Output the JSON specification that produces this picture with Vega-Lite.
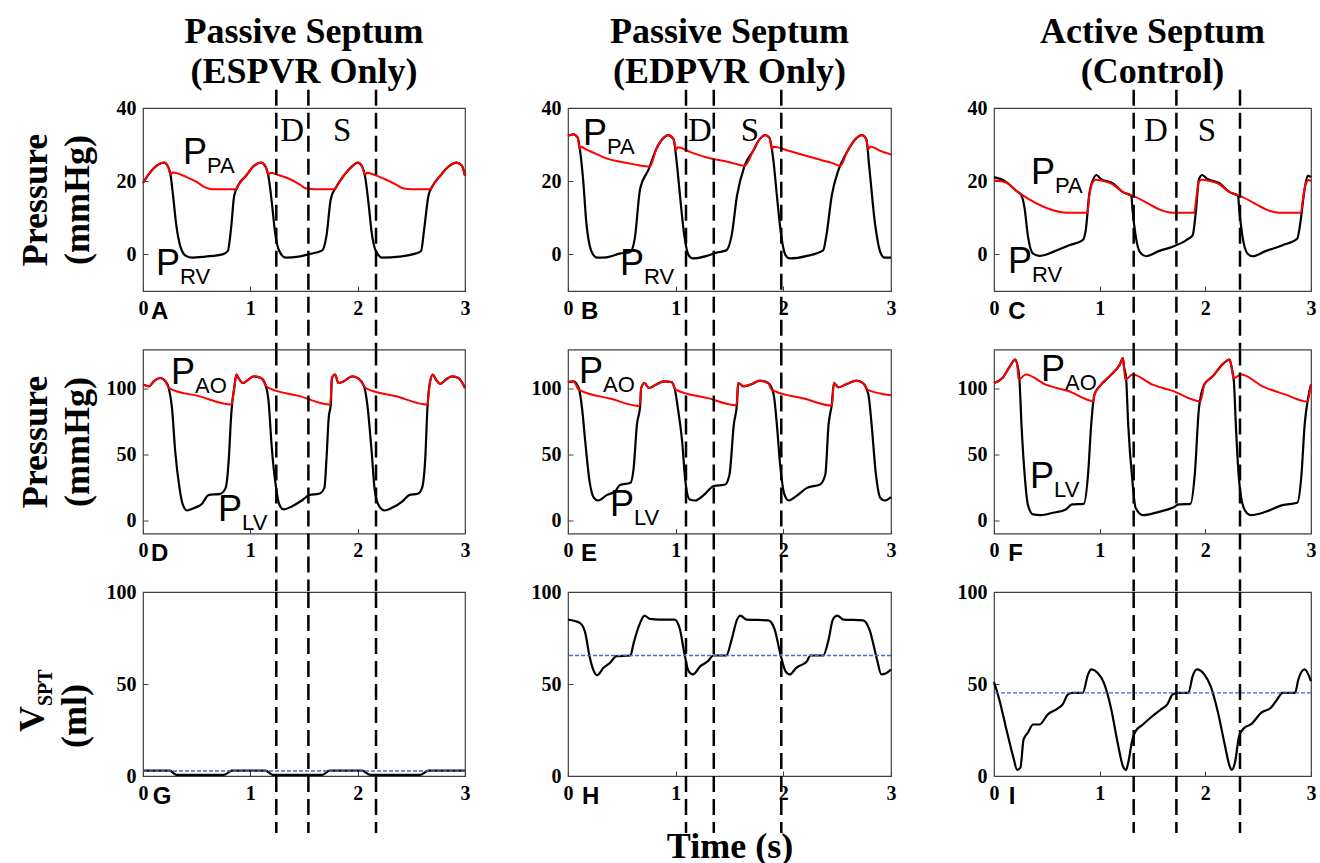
{
"$schema":"https://vega.github.io/schema/vega-lite/v6.json",
"padding":{"left":14,"top":13,"right":0,"bottom":0},
"background":"white",
"datasets":{
"cur":[
{"p":"A","s":"k","t":0,"v":19.5},{"p":"A","s":"k","t":0.056,"v":22},{"p":"A","s":"k","t":0.134,"v":24.4},{"p":"A","s":"k","t":0.196,"v":25.1},{"p":"A","s":"k","t":0.236,"v":23.8},{"p":"A","s":"k","t":0.258,"v":21.5},{"p":"A","s":"k","t":0.28,"v":16.1},{"p":"A","s":"k","t":0.31,"v":8},{"p":"A","s":"k","t":0.35,"v":2},{"p":"A","s":"k","t":0.4,"v":-0.4},{"p":"A","s":"k","t":0.46,"v":-0.9},{"p":"A","s":"k","t":0.58,"v":-0.6},{"p":"A","s":"k","t":0.74,"v":0},{"p":"A","s":"k","t":0.79,"v":0.9},{"p":"A","s":"k","t":0.82,"v":7},{"p":"A","s":"k","t":0.85,"v":16.1},{"p":"A","s":"k","t":0.89,"v":19},{"p":"A","s":"k","t":0.96,"v":21.5},{"p":"A","s":"k","t":1.03,"v":24.1},{"p":"A","s":"k","t":1.1,"v":25.1},{"p":"A","s":"k","t":1.14,"v":24.1},{"p":"A","s":"k","t":1.17,"v":21.1},{"p":"A","s":"k","t":1.2,"v":14.3},{"p":"A","s":"k","t":1.23,"v":6.1},{"p":"A","s":"k","t":1.27,"v":0.9},{"p":"A","s":"k","t":1.33,"v":-0.9},{"p":"A","s":"k","t":1.45,"v":-0.6},{"p":"A","s":"k","t":1.55,"v":0.1},{"p":"A","s":"k","t":1.67,"v":1.1},{"p":"A","s":"k","t":1.71,"v":5.2},{"p":"A","s":"k","t":1.75,"v":15.2},{"p":"A","s":"k","t":1.8,"v":18.4},{"p":"A","s":"k","t":1.87,"v":21.5},{"p":"A","s":"k","t":1.95,"v":24.1},{"p":"A","s":"k","t":2,"v":25.1},{"p":"A","s":"k","t":2.04,"v":24.1},{"p":"A","s":"k","t":2.07,"v":21.1},{"p":"A","s":"k","t":2.1,"v":14.3},{"p":"A","s":"k","t":2.13,"v":6.1},{"p":"A","s":"k","t":2.17,"v":0.9},{"p":"A","s":"k","t":2.23,"v":-0.9},{"p":"A","s":"k","t":2.39,"v":-0.6},{"p":"A","s":"k","t":2.51,"v":0},{"p":"A","s":"k","t":2.59,"v":0.9},{"p":"A","s":"k","t":2.62,"v":7},{"p":"A","s":"k","t":2.66,"v":16.1},{"p":"A","s":"k","t":2.7,"v":18.8},{"p":"A","s":"k","t":2.77,"v":21.5},{"p":"A","s":"k","t":2.85,"v":24.1},{"p":"A","s":"k","t":2.92,"v":25.1},{"p":"A","s":"k","t":2.97,"v":24.3},{"p":"A","s":"k","t":3,"v":21.5},
{"p":"A","s":"r","t":0,"v":19.5},{"p":"A","s":"r","t":0.056,"v":22},{"p":"A","s":"r","t":0.134,"v":24.4},{"p":"A","s":"r","t":0.196,"v":25.1},{"p":"A","s":"r","t":0.236,"v":23.8},{"p":"A","s":"r","t":0.258,"v":21.8},{"p":"A","s":"r","t":0.27,"v":22.4},{"p":"A","s":"r","t":0.3,"v":22.3},{"p":"A","s":"r","t":0.4,"v":21.2},{"p":"A","s":"r","t":0.5,"v":19.8},{"p":"A","s":"r","t":0.58,"v":18.3},{"p":"A","s":"r","t":0.65,"v":17.8},{"p":"A","s":"r","t":0.865,"v":17.8},{"p":"A","s":"r","t":0.89,"v":19},{"p":"A","s":"r","t":0.96,"v":21.5},{"p":"A","s":"r","t":1.03,"v":24.1},{"p":"A","s":"r","t":1.1,"v":25.1},{"p":"A","s":"r","t":1.14,"v":24.1},{"p":"A","s":"r","t":1.17,"v":21.8},{"p":"A","s":"r","t":1.19,"v":22.3},{"p":"A","s":"r","t":1.25,"v":21.8},{"p":"A","s":"r","t":1.35,"v":20.8},{"p":"A","s":"r","t":1.45,"v":19.3},{"p":"A","s":"r","t":1.52,"v":18},{"p":"A","s":"r","t":1.6,"v":17.8},{"p":"A","s":"r","t":1.785,"v":17.8},{"p":"A","s":"r","t":1.8,"v":18.4},{"p":"A","s":"r","t":1.87,"v":21.5},{"p":"A","s":"r","t":1.95,"v":24.1},{"p":"A","s":"r","t":2,"v":25.1},{"p":"A","s":"r","t":2.04,"v":24.1},{"p":"A","s":"r","t":2.07,"v":21.8},{"p":"A","s":"r","t":2.09,"v":22.3},{"p":"A","s":"r","t":2.15,"v":21.8},{"p":"A","s":"r","t":2.25,"v":20.6},{"p":"A","s":"r","t":2.35,"v":19.2},{"p":"A","s":"r","t":2.43,"v":18},{"p":"A","s":"r","t":2.5,"v":17.8},{"p":"A","s":"r","t":2.68,"v":17.8},{"p":"A","s":"r","t":2.7,"v":18.8},{"p":"A","s":"r","t":2.77,"v":21.5},{"p":"A","s":"r","t":2.85,"v":24.1},{"p":"A","s":"r","t":2.92,"v":25.1},{"p":"A","s":"r","t":2.97,"v":24.3},{"p":"A","s":"r","t":3,"v":21.5},
{"p":"B","s":"k","t":0,"v":32.4},{"p":"B","s":"k","t":0.05,"v":32.8},{"p":"B","s":"k","t":0.09,"v":31.9},{"p":"B","s":"k","t":0.11,"v":28.8},{"p":"B","s":"k","t":0.14,"v":20.6},{"p":"B","s":"k","t":0.17,"v":8.8},{"p":"B","s":"k","t":0.22,"v":0.7},{"p":"B","s":"k","t":0.27,"v":-0.9},{"p":"B","s":"k","t":0.36,"v":-0.8},{"p":"B","s":"k","t":0.48,"v":0.2},{"p":"B","s":"k","t":0.58,"v":0.7},{"p":"B","s":"k","t":0.62,"v":4.3},{"p":"B","s":"k","t":0.67,"v":17.9},{"p":"B","s":"k","t":0.75,"v":23.3},{"p":"B","s":"k","t":0.82,"v":28.8},{"p":"B","s":"k","t":0.89,"v":31.9},{"p":"B","s":"k","t":0.93,"v":32.6},{"p":"B","s":"k","t":0.98,"v":31.5},{"p":"B","s":"k","t":1.01,"v":25.1},{"p":"B","s":"k","t":1.04,"v":16.1},{"p":"B","s":"k","t":1.08,"v":5.2},{"p":"B","s":"k","t":1.12,"v":-0.2},{"p":"B","s":"k","t":1.16,"v":-1.1},{"p":"B","s":"k","t":1.29,"v":-0.4},{"p":"B","s":"k","t":1.38,"v":0.5},{"p":"B","s":"k","t":1.47,"v":1.1},{"p":"B","s":"k","t":1.52,"v":5.2},{"p":"B","s":"k","t":1.57,"v":16.1},{"p":"B","s":"k","t":1.64,"v":24.2},{"p":"B","s":"k","t":1.72,"v":28.3},{"p":"B","s":"k","t":1.78,"v":31.5},{"p":"B","s":"k","t":1.83,"v":32.6},{"p":"B","s":"k","t":1.87,"v":31.9},{"p":"B","s":"k","t":1.91,"v":25.1},{"p":"B","s":"k","t":1.94,"v":16.1},{"p":"B","s":"k","t":1.98,"v":5.2},{"p":"B","s":"k","t":2.02,"v":-0.2},{"p":"B","s":"k","t":2.06,"v":-1.1},{"p":"B","s":"k","t":2.22,"v":-0.4},{"p":"B","s":"k","t":2.37,"v":1.1},{"p":"B","s":"k","t":2.4,"v":5.2},{"p":"B","s":"k","t":2.45,"v":16.1},{"p":"B","s":"k","t":2.51,"v":22.9},{"p":"B","s":"k","t":2.59,"v":27.9},{"p":"B","s":"k","t":2.67,"v":31.5},{"p":"B","s":"k","t":2.73,"v":32.6},{"p":"B","s":"k","t":2.77,"v":31.5},{"p":"B","s":"k","t":2.8,"v":23.3},{"p":"B","s":"k","t":2.85,"v":8.8},{"p":"B","s":"k","t":2.9,"v":0.7},{"p":"B","s":"k","t":2.94,"v":-0.9},{"p":"B","s":"k","t":3,"v":-0.9},
{"p":"B","s":"r","t":0,"v":32.4},{"p":"B","s":"r","t":0.05,"v":32.8},{"p":"B","s":"r","t":0.09,"v":31.9},{"p":"B","s":"r","t":0.11,"v":28.8},{"p":"B","s":"r","t":0.125,"v":29.4},{"p":"B","s":"r","t":0.15,"v":29},{"p":"B","s":"r","t":0.25,"v":27.6},{"p":"B","s":"r","t":0.35,"v":26.3},{"p":"B","s":"r","t":0.45,"v":25.5},{"p":"B","s":"r","t":0.55,"v":25},{"p":"B","s":"r","t":0.65,"v":24.4},{"p":"B","s":"r","t":0.76,"v":24},{"p":"B","s":"r","t":0.82,"v":28.8},{"p":"B","s":"r","t":0.89,"v":31.9},{"p":"B","s":"r","t":0.93,"v":32.6},{"p":"B","s":"r","t":0.98,"v":31.5},{"p":"B","s":"r","t":1.005,"v":28.6},{"p":"B","s":"r","t":1.02,"v":29.3},{"p":"B","s":"r","t":1.15,"v":27.8},{"p":"B","s":"r","t":1.3,"v":26.4},{"p":"B","s":"r","t":1.45,"v":25.5},{"p":"B","s":"r","t":1.55,"v":24.8},{"p":"B","s":"r","t":1.64,"v":24.2},{"p":"B","s":"r","t":1.72,"v":28.3},{"p":"B","s":"r","t":1.78,"v":31.5},{"p":"B","s":"r","t":1.83,"v":32.6},{"p":"B","s":"r","t":1.87,"v":31.9},{"p":"B","s":"r","t":1.895,"v":28.8},{"p":"B","s":"r","t":1.91,"v":29.4},{"p":"B","s":"r","t":2.05,"v":28.3},{"p":"B","s":"r","t":2.2,"v":27},{"p":"B","s":"r","t":2.35,"v":25.8},{"p":"B","s":"r","t":2.45,"v":25},{"p":"B","s":"r","t":2.53,"v":24.2},{"p":"B","s":"r","t":2.59,"v":27.9},{"p":"B","s":"r","t":2.67,"v":31.5},{"p":"B","s":"r","t":2.73,"v":32.6},{"p":"B","s":"r","t":2.77,"v":31.5},{"p":"B","s":"r","t":2.79,"v":28.8},{"p":"B","s":"r","t":2.81,"v":29.5},{"p":"B","s":"r","t":2.9,"v":28.3},{"p":"B","s":"r","t":3,"v":27.3},
{"p":"C","s":"k","t":0,"v":21.1},{"p":"C","s":"k","t":0.11,"v":19.9},{"p":"C","s":"k","t":0.21,"v":17.4},{"p":"C","s":"k","t":0.26,"v":16.1},{"p":"C","s":"k","t":0.29,"v":12.5},{"p":"C","s":"k","t":0.32,"v":5.2},{"p":"C","s":"k","t":0.37,"v":0.2},{"p":"C","s":"k","t":0.43,"v":-0.4},{"p":"C","s":"k","t":0.56,"v":0.7},{"p":"C","s":"k","t":0.71,"v":2.5},{"p":"C","s":"k","t":0.84,"v":3.9},{"p":"C","s":"k","t":0.87,"v":7},{"p":"C","s":"k","t":0.9,"v":16.1},{"p":"C","s":"k","t":0.94,"v":20.6},{"p":"C","s":"k","t":0.97,"v":21.7},{"p":"C","s":"k","t":1.01,"v":20.6},{"p":"C","s":"k","t":1.12,"v":19.5},{"p":"C","s":"k","t":1.22,"v":17},{"p":"C","s":"k","t":1.3,"v":16},{"p":"C","s":"k","t":1.31,"v":12.5},{"p":"C","s":"k","t":1.34,"v":5.2},{"p":"C","s":"k","t":1.38,"v":0.7},{"p":"C","s":"k","t":1.44,"v":-0.5},{"p":"C","s":"k","t":1.56,"v":0.9},{"p":"C","s":"k","t":1.69,"v":2.1},{"p":"C","s":"k","t":1.82,"v":3.9},{"p":"C","s":"k","t":1.88,"v":5.2},{"p":"C","s":"k","t":1.91,"v":11.6},{"p":"C","s":"k","t":1.94,"v":20.6},{"p":"C","s":"k","t":1.97,"v":21.7},{"p":"C","s":"k","t":2.02,"v":20.6},{"p":"C","s":"k","t":2.13,"v":19.5},{"p":"C","s":"k","t":2.23,"v":17},{"p":"C","s":"k","t":2.31,"v":16},{"p":"C","s":"k","t":2.32,"v":12.5},{"p":"C","s":"k","t":2.35,"v":5.2},{"p":"C","s":"k","t":2.4,"v":0.2},{"p":"C","s":"k","t":2.45,"v":-0.5},{"p":"C","s":"k","t":2.57,"v":0.9},{"p":"C","s":"k","t":2.73,"v":2.5},{"p":"C","s":"k","t":2.87,"v":4.3},{"p":"C","s":"k","t":2.9,"v":8.8},{"p":"C","s":"k","t":2.94,"v":17.9},{"p":"C","s":"k","t":2.97,"v":21.5},{"p":"C","s":"k","t":3,"v":21.1},
{"p":"C","s":"r","t":0,"v":20.2},{"p":"C","s":"r","t":0.11,"v":19.7},{"p":"C","s":"r","t":0.21,"v":17.4},{"p":"C","s":"r","t":0.27,"v":16.2},{"p":"C","s":"r","t":0.7,"v":11.4},{"p":"C","s":"r","t":0.885,"v":11.4},{"p":"C","s":"r","t":0.9,"v":15.5},{"p":"C","s":"r","t":0.93,"v":19.5},{"p":"C","s":"r","t":0.96,"v":20.4},{"p":"C","s":"r","t":1.01,"v":20.2},{"p":"C","s":"r","t":1.12,"v":19.2},{"p":"C","s":"r","t":1.22,"v":17},{"p":"C","s":"r","t":1.3,"v":16.2},{"p":"C","s":"r","t":1.69,"v":11.4},{"p":"C","s":"r","t":1.895,"v":11.4},{"p":"C","s":"r","t":1.915,"v":15.5},{"p":"C","s":"r","t":1.94,"v":20},{"p":"C","s":"r","t":1.97,"v":20.4},{"p":"C","s":"r","t":2.02,"v":20.2},{"p":"C","s":"r","t":2.13,"v":19.2},{"p":"C","s":"r","t":2.23,"v":17},{"p":"C","s":"r","t":2.31,"v":16.2},{"p":"C","s":"r","t":2.7,"v":11.4},{"p":"C","s":"r","t":2.905,"v":11.4},{"p":"C","s":"r","t":2.925,"v":15.5},{"p":"C","s":"r","t":2.95,"v":19.3},{"p":"C","s":"r","t":2.98,"v":20.3},{"p":"C","s":"r","t":3,"v":20},
{"p":"D","s":"k","t":0,"v":103.3},{"p":"D","s":"k","t":0.056,"v":102},{"p":"D","s":"k","t":0.1,"v":105.8},{"p":"D","s":"k","t":0.16,"v":108.3},{"p":"D","s":"k","t":0.21,"v":105.8},{"p":"D","s":"k","t":0.24,"v":100.7},{"p":"D","s":"k","t":0.27,"v":85.5},{"p":"D","s":"k","t":0.3,"v":52.6},{"p":"D","s":"k","t":0.34,"v":24.7},{"p":"D","s":"k","t":0.37,"v":12.1},{"p":"D","s":"k","t":0.41,"v":7.5},{"p":"D","s":"k","t":0.48,"v":9.5},{"p":"D","s":"k","t":0.55,"v":12.6},{"p":"D","s":"k","t":0.61,"v":19.2},{"p":"D","s":"k","t":0.72,"v":20.2},{"p":"D","s":"k","t":0.77,"v":24.7},{"p":"D","s":"k","t":0.8,"v":47.5},{"p":"D","s":"k","t":0.82,"v":77.9},{"p":"D","s":"k","t":0.83,"v":88.6},{"p":"D","s":"k","t":0.85,"v":100.7},{"p":"D","s":"k","t":0.87,"v":110.9},{"p":"D","s":"k","t":0.89,"v":108.3},{"p":"D","s":"k","t":0.93,"v":104.5},{"p":"D","s":"k","t":0.97,"v":106.3},{"p":"D","s":"k","t":1.03,"v":109.6},{"p":"D","s":"k","t":1.1,"v":108.3},{"p":"D","s":"k","t":1.14,"v":103.3},{"p":"D","s":"k","t":1.17,"v":90.6},{"p":"D","s":"k","t":1.2,"v":55.1},{"p":"D","s":"k","t":1.24,"v":24.7},{"p":"D","s":"k","t":1.27,"v":12.1},{"p":"D","s":"k","t":1.31,"v":8.3},{"p":"D","s":"k","t":1.39,"v":10.8},{"p":"D","s":"k","t":1.48,"v":15.1},{"p":"D","s":"k","t":1.55,"v":19.2},{"p":"D","s":"k","t":1.64,"v":20.2},{"p":"D","s":"k","t":1.69,"v":24.7},{"p":"D","s":"k","t":1.71,"v":47.5},{"p":"D","s":"k","t":1.73,"v":77.9},{"p":"D","s":"k","t":1.75,"v":88.6},{"p":"D","s":"k","t":1.76,"v":108.3},{"p":"D","s":"k","t":1.79,"v":110.9},{"p":"D","s":"k","t":1.82,"v":104.5},{"p":"D","s":"k","t":1.87,"v":105.8},{"p":"D","s":"k","t":1.95,"v":109.6},{"p":"D","s":"k","t":2.01,"v":107.8},{"p":"D","s":"k","t":2.06,"v":102},{"p":"D","s":"k","t":2.09,"v":88.1},{"p":"D","s":"k","t":2.13,"v":52.6},{"p":"D","s":"k","t":2.16,"v":22.2},{"p":"D","s":"k","t":2.2,"v":10.8},{"p":"D","s":"k","t":2.25,"v":7.5},{"p":"D","s":"k","t":2.32,"v":9.5},{"p":"D","s":"k","t":2.42,"v":14.6},{"p":"D","s":"k","t":2.48,"v":19.2},{"p":"D","s":"k","t":2.56,"v":20.2},{"p":"D","s":"k","t":2.6,"v":24.7},{"p":"D","s":"k","t":2.63,"v":47.5},{"p":"D","s":"k","t":2.65,"v":85.5},{"p":"D","s":"k","t":2.67,"v":103.3},{"p":"D","s":"k","t":2.7,"v":110.9},{"p":"D","s":"k","t":2.73,"v":107},{"p":"D","s":"k","t":2.77,"v":103.8},{"p":"D","s":"k","t":2.82,"v":107},{"p":"D","s":"k","t":2.88,"v":109.6},{"p":"D","s":"k","t":2.94,"v":108.3},{"p":"D","s":"k","t":3,"v":100.7},
{"p":"D","s":"r","t":0,"v":103.3},{"p":"D","s":"r","t":0.056,"v":102},{"p":"D","s":"r","t":0.1,"v":105.8},{"p":"D","s":"r","t":0.16,"v":108.3},{"p":"D","s":"r","t":0.21,"v":105.8},{"p":"D","s":"r","t":0.24,"v":100.7},{"p":"D","s":"r","t":0.52,"v":94.5},{"p":"D","s":"r","t":0.825,"v":88.1},{"p":"D","s":"r","t":0.85,"v":100.7},{"p":"D","s":"r","t":0.87,"v":110.9},{"p":"D","s":"r","t":0.89,"v":108.3},{"p":"D","s":"r","t":0.93,"v":104.5},{"p":"D","s":"r","t":0.97,"v":106.3},{"p":"D","s":"r","t":1.03,"v":109.6},{"p":"D","s":"r","t":1.1,"v":108.3},{"p":"D","s":"r","t":1.14,"v":103.3},{"p":"D","s":"r","t":1.16,"v":101.2},{"p":"D","s":"r","t":1.45,"v":94.7},{"p":"D","s":"r","t":1.745,"v":88.1},{"p":"D","s":"r","t":1.76,"v":108.3},{"p":"D","s":"r","t":1.79,"v":110.9},{"p":"D","s":"r","t":1.82,"v":104.5},{"p":"D","s":"r","t":1.87,"v":105.8},{"p":"D","s":"r","t":1.95,"v":109.6},{"p":"D","s":"r","t":2.01,"v":107.8},{"p":"D","s":"r","t":2.06,"v":102},{"p":"D","s":"r","t":2.075,"v":100.7},{"p":"D","s":"r","t":2.36,"v":94.4},{"p":"D","s":"r","t":2.65,"v":88.1},{"p":"D","s":"r","t":2.67,"v":103.3},{"p":"D","s":"r","t":2.7,"v":110.9},{"p":"D","s":"r","t":2.73,"v":107},{"p":"D","s":"r","t":2.77,"v":103.8},{"p":"D","s":"r","t":2.82,"v":107},{"p":"D","s":"r","t":2.88,"v":109.6},{"p":"D","s":"r","t":2.94,"v":108.3},{"p":"D","s":"r","t":3,"v":100.7},
{"p":"E","s":"k","t":0,"v":105.3},{"p":"E","s":"k","t":0.05,"v":105.8},{"p":"E","s":"k","t":0.1,"v":100.7},{"p":"E","s":"k","t":0.13,"v":85.5},{"p":"E","s":"k","t":0.16,"v":60.2},{"p":"E","s":"k","t":0.2,"v":29.8},{"p":"E","s":"k","t":0.24,"v":17.2},{"p":"E","s":"k","t":0.28,"v":15.1},{"p":"E","s":"k","t":0.36,"v":19.2},{"p":"E","s":"k","t":0.44,"v":22.2},{"p":"E","s":"k","t":0.48,"v":26.8},{"p":"E","s":"k","t":0.58,"v":28.6},{"p":"E","s":"k","t":0.61,"v":40},{"p":"E","s":"k","t":0.64,"v":72.9},{"p":"E","s":"k","t":0.67,"v":86.8},{"p":"E","s":"k","t":0.68,"v":100.7},{"p":"E","s":"k","t":0.71,"v":104.5},{"p":"E","s":"k","t":0.75,"v":100.7},{"p":"E","s":"k","t":0.82,"v":103.3},{"p":"E","s":"k","t":0.89,"v":105.8},{"p":"E","s":"k","t":0.96,"v":105.3},{"p":"E","s":"k","t":0.99,"v":100.7},{"p":"E","s":"k","t":1.02,"v":85.5},{"p":"E","s":"k","t":1.06,"v":60.2},{"p":"E","s":"k","t":1.09,"v":29.8},{"p":"E","s":"k","t":1.13,"v":15.9},{"p":"E","s":"k","t":1.18,"v":15.1},{"p":"E","s":"k","t":1.26,"v":19.2},{"p":"E","s":"k","t":1.35,"v":26},{"p":"E","s":"k","t":1.46,"v":27.3},{"p":"E","s":"k","t":1.5,"v":34.9},{"p":"E","s":"k","t":1.54,"v":72.9},{"p":"E","s":"k","t":1.57,"v":89.3},{"p":"E","s":"k","t":1.58,"v":104.5},{"p":"E","s":"k","t":1.63,"v":102},{"p":"E","s":"k","t":1.71,"v":103.8},{"p":"E","s":"k","t":1.78,"v":106.3},{"p":"E","s":"k","t":1.86,"v":104.5},{"p":"E","s":"k","t":1.91,"v":95.7},{"p":"E","s":"k","t":1.94,"v":72.9},{"p":"E","s":"k","t":1.97,"v":42.5},{"p":"E","s":"k","t":2.01,"v":19.7},{"p":"E","s":"k","t":2.05,"v":15.1},{"p":"E","s":"k","t":2.12,"v":18.4},{"p":"E","s":"k","t":2.22,"v":24.7},{"p":"E","s":"k","t":2.34,"v":27.3},{"p":"E","s":"k","t":2.39,"v":34.9},{"p":"E","s":"k","t":2.42,"v":72.9},{"p":"E","s":"k","t":2.45,"v":88.1},{"p":"E","s":"k","t":2.47,"v":104.5},{"p":"E","s":"k","t":2.51,"v":101.2},{"p":"E","s":"k","t":2.59,"v":103.8},{"p":"E","s":"k","t":2.68,"v":106.3},{"p":"E","s":"k","t":2.74,"v":104.5},{"p":"E","s":"k","t":2.79,"v":95.7},{"p":"E","s":"k","t":2.82,"v":72.9},{"p":"E","s":"k","t":2.86,"v":34.9},{"p":"E","s":"k","t":2.9,"v":17.2},{"p":"E","s":"k","t":2.94,"v":15.1},{"p":"E","s":"k","t":3,"v":17.7},
{"p":"E","s":"r","t":0,"v":105.3},{"p":"E","s":"r","t":0.05,"v":105.8},{"p":"E","s":"r","t":0.1,"v":99.5},{"p":"E","s":"r","t":0.4,"v":92.5},{"p":"E","s":"r","t":0.665,"v":87},{"p":"E","s":"r","t":0.68,"v":100.7},{"p":"E","s":"r","t":0.71,"v":104.5},{"p":"E","s":"r","t":0.75,"v":100.7},{"p":"E","s":"r","t":0.82,"v":103.3},{"p":"E","s":"r","t":0.89,"v":105.8},{"p":"E","s":"r","t":0.96,"v":105.3},{"p":"E","s":"r","t":1,"v":99.5},{"p":"E","s":"r","t":1.3,"v":93},{"p":"E","s":"r","t":1.565,"v":87.6},{"p":"E","s":"r","t":1.58,"v":104.5},{"p":"E","s":"r","t":1.63,"v":102},{"p":"E","s":"r","t":1.71,"v":103.8},{"p":"E","s":"r","t":1.78,"v":106.3},{"p":"E","s":"r","t":1.86,"v":104.5},{"p":"E","s":"r","t":1.89,"v":99.5},{"p":"E","s":"r","t":2.2,"v":92.5},{"p":"E","s":"r","t":2.45,"v":87.3},{"p":"E","s":"r","t":2.47,"v":104.5},{"p":"E","s":"r","t":2.51,"v":101.2},{"p":"E","s":"r","t":2.59,"v":103.8},{"p":"E","s":"r","t":2.68,"v":106.3},{"p":"E","s":"r","t":2.74,"v":104.5},{"p":"E","s":"r","t":2.78,"v":99.5},{"p":"E","s":"r","t":3,"v":95.2},
{"p":"F","s":"k","t":0,"v":104.5},{"p":"F","s":"k","t":0.08,"v":108.3},{"p":"F","s":"k","t":0.15,"v":117.2},{"p":"F","s":"k","t":0.2,"v":122.3},{"p":"F","s":"k","t":0.22,"v":118.5},{"p":"F","s":"k","t":0.24,"v":108.3},{"p":"F","s":"k","t":0.26,"v":72.9},{"p":"F","s":"k","t":0.29,"v":34.9},{"p":"F","s":"k","t":0.32,"v":12.1},{"p":"F","s":"k","t":0.37,"v":4.5},{"p":"F","s":"k","t":0.44,"v":4},{"p":"F","s":"k","t":0.56,"v":5.8},{"p":"F","s":"k","t":0.68,"v":8.3},{"p":"F","s":"k","t":0.74,"v":12.1},{"p":"F","s":"k","t":0.85,"v":12.6},{"p":"F","s":"k","t":0.89,"v":34.9},{"p":"F","s":"k","t":0.92,"v":72.9},{"p":"F","s":"k","t":0.95,"v":95.7},{"p":"F","s":"k","t":1,"v":102},{"p":"F","s":"k","t":1.11,"v":110.9},{"p":"F","s":"k","t":1.19,"v":118.5},{"p":"F","s":"k","t":1.22,"v":123.5},{"p":"F","s":"k","t":1.23,"v":117.2},{"p":"F","s":"k","t":1.25,"v":108.3},{"p":"F","s":"k","t":1.27,"v":72.9},{"p":"F","s":"k","t":1.31,"v":29.8},{"p":"F","s":"k","t":1.34,"v":9.6},{"p":"F","s":"k","t":1.41,"v":4},{"p":"F","s":"k","t":1.56,"v":6.5},{"p":"F","s":"k","t":1.69,"v":9.6},{"p":"F","s":"k","t":1.75,"v":12.1},{"p":"F","s":"k","t":1.86,"v":12.6},{"p":"F","s":"k","t":1.9,"v":34.9},{"p":"F","s":"k","t":1.94,"v":85.5},{"p":"F","s":"k","t":1.99,"v":103.3},{"p":"F","s":"k","t":2.07,"v":109.6},{"p":"F","s":"k","t":2.16,"v":118.5},{"p":"F","s":"k","t":2.23,"v":122.3},{"p":"F","s":"k","t":2.25,"v":115.9},{"p":"F","s":"k","t":2.27,"v":105.8},{"p":"F","s":"k","t":2.29,"v":70.3},{"p":"F","s":"k","t":2.32,"v":29.8},{"p":"F","s":"k","t":2.37,"v":8.3},{"p":"F","s":"k","t":2.43,"v":4},{"p":"F","s":"k","t":2.57,"v":6.5},{"p":"F","s":"k","t":2.73,"v":11.6},{"p":"F","s":"k","t":2.87,"v":13.4},{"p":"F","s":"k","t":2.91,"v":34.9},{"p":"F","s":"k","t":2.94,"v":72.9},{"p":"F","s":"k","t":2.97,"v":91.9},{"p":"F","s":"k","t":3,"v":103.3},
{"p":"F","s":"r","t":0,"v":104.5},{"p":"F","s":"r","t":0.08,"v":108.3},{"p":"F","s":"r","t":0.15,"v":117.2},{"p":"F","s":"r","t":0.2,"v":122.3},{"p":"F","s":"r","t":0.22,"v":118.5},{"p":"F","s":"r","t":0.233,"v":107},{"p":"F","s":"r","t":0.3,"v":110.9},{"p":"F","s":"r","t":0.49,"v":103.3},{"p":"F","s":"r","t":0.71,"v":98.2},{"p":"F","s":"r","t":0.943,"v":90.6},{"p":"F","s":"r","t":0.95,"v":95.7},{"p":"F","s":"r","t":1,"v":102},{"p":"F","s":"r","t":1.11,"v":110.9},{"p":"F","s":"r","t":1.19,"v":118.5},{"p":"F","s":"r","t":1.22,"v":123.5},{"p":"F","s":"r","t":1.232,"v":115},{"p":"F","s":"r","t":1.243,"v":107},{"p":"F","s":"r","t":1.31,"v":110.9},{"p":"F","s":"r","t":1.5,"v":103.3},{"p":"F","s":"r","t":1.69,"v":98.5},{"p":"F","s":"r","t":1.954,"v":90.6},{"p":"F","s":"r","t":1.99,"v":103.3},{"p":"F","s":"r","t":2.07,"v":109.6},{"p":"F","s":"r","t":2.16,"v":118.5},{"p":"F","s":"r","t":2.23,"v":122.3},{"p":"F","s":"r","t":2.25,"v":115.9},{"p":"F","s":"r","t":2.265,"v":108.3},{"p":"F","s":"r","t":2.34,"v":110.9},{"p":"F","s":"r","t":2.54,"v":102},{"p":"F","s":"r","t":2.76,"v":95.7},{"p":"F","s":"r","t":2.965,"v":90.4},{"p":"F","s":"r","t":3,"v":103.3},
{"p":"G","s":"k","t":0,"v":2.9},{"p":"G","s":"k","t":0.25,"v":2.9},{"p":"G","s":"k","t":0.31,"v":0.6},{"p":"G","s":"k","t":0.75,"v":0.6},{"p":"G","s":"k","t":0.83,"v":2.9},{"p":"G","s":"k","t":1.14,"v":2.9},{"p":"G","s":"k","t":1.21,"v":0.6},{"p":"G","s":"k","t":1.67,"v":0.6},{"p":"G","s":"k","t":1.74,"v":2.9},{"p":"G","s":"k","t":2.04,"v":2.9},{"p":"G","s":"k","t":2.12,"v":0.6},{"p":"G","s":"k","t":2.58,"v":0.6},{"p":"G","s":"k","t":2.66,"v":2.9},{"p":"G","s":"k","t":3,"v":2.9},
{"p":"H","s":"k","t":0,"v":85},{"p":"H","s":"k","t":0.11,"v":83.2},{"p":"H","s":"k","t":0.16,"v":77.8},{"p":"H","s":"k","t":0.2,"v":65.1},{"p":"H","s":"k","t":0.24,"v":57},{"p":"H","s":"k","t":0.27,"v":54.8},{"p":"H","s":"k","t":0.33,"v":58.8},{"p":"H","s":"k","t":0.39,"v":61.5},{"p":"H","s":"k","t":0.45,"v":65.1},{"p":"H","s":"k","t":0.58,"v":65.5},{"p":"H","s":"k","t":0.61,"v":72.3},{"p":"H","s":"k","t":0.67,"v":83.2},{"p":"H","s":"k","t":0.71,"v":87.2},{"p":"H","s":"k","t":0.76,"v":85.4},{"p":"H","s":"k","t":0.85,"v":85},{"p":"H","s":"k","t":0.99,"v":85},{"p":"H","s":"k","t":1.04,"v":79.6},{"p":"H","s":"k","t":1.08,"v":66.9},{"p":"H","s":"k","t":1.12,"v":57},{"p":"H","s":"k","t":1.16,"v":55.2},{"p":"H","s":"k","t":1.23,"v":59.7},{"p":"H","s":"k","t":1.3,"v":62.4},{"p":"H","s":"k","t":1.35,"v":65.5},{"p":"H","s":"k","t":1.47,"v":65.5},{"p":"H","s":"k","t":1.52,"v":74.1},{"p":"H","s":"k","t":1.57,"v":85},{"p":"H","s":"k","t":1.6,"v":87.2},{"p":"H","s":"k","t":1.66,"v":85},{"p":"H","s":"k","t":1.86,"v":84.6},{"p":"H","s":"k","t":1.92,"v":79.6},{"p":"H","s":"k","t":1.97,"v":66.9},{"p":"H","s":"k","t":2.02,"v":57},{"p":"H","s":"k","t":2.06,"v":55.2},{"p":"H","s":"k","t":2.12,"v":58.8},{"p":"H","s":"k","t":2.22,"v":62.4},{"p":"H","s":"k","t":2.25,"v":65.5},{"p":"H","s":"k","t":2.37,"v":65.5},{"p":"H","s":"k","t":2.42,"v":74.1},{"p":"H","s":"k","t":2.46,"v":85},{"p":"H","s":"k","t":2.5,"v":87.2},{"p":"H","s":"k","t":2.56,"v":85},{"p":"H","s":"k","t":2.74,"v":84.6},{"p":"H","s":"k","t":2.8,"v":79.6},{"p":"H","s":"k","t":2.87,"v":63.3},{"p":"H","s":"k","t":2.91,"v":55.2},{"p":"H","s":"k","t":2.95,"v":55.7},{"p":"H","s":"k","t":3,"v":57.9},
{"p":"I","s":"k","t":0,"v":51},{"p":"I","s":"k","t":0.05,"v":41.6},{"p":"I","s":"k","t":0.11,"v":27.1},{"p":"I","s":"k","t":0.18,"v":10.9},{"p":"I","s":"k","t":0.22,"v":3.3},{"p":"I","s":"k","t":0.25,"v":4.5},{"p":"I","s":"k","t":0.28,"v":19.9},{"p":"I","s":"k","t":0.32,"v":23.5},{"p":"I","s":"k","t":0.37,"v":28},{"p":"I","s":"k","t":0.43,"v":28},{"p":"I","s":"k","t":0.51,"v":33.5},{"p":"I","s":"k","t":0.59,"v":36.2},{"p":"I","s":"k","t":0.65,"v":38.9},{"p":"I","s":"k","t":0.7,"v":44.3},{"p":"I","s":"k","t":0.74,"v":45.2},{"p":"I","s":"k","t":0.84,"v":45.2},{"p":"I","s":"k","t":0.89,"v":55.2},{"p":"I","s":"k","t":0.92,"v":57.9},{"p":"I","s":"k","t":0.98,"v":56.1},{"p":"I","s":"k","t":1.04,"v":50.6},{"p":"I","s":"k","t":1.11,"v":36.2},{"p":"I","s":"k","t":1.17,"v":18.1},{"p":"I","s":"k","t":1.22,"v":5.4},{"p":"I","s":"k","t":1.25,"v":3.3},{"p":"I","s":"k","t":1.27,"v":7.2},{"p":"I","s":"k","t":1.31,"v":19.9},{"p":"I","s":"k","t":1.34,"v":24.4},{"p":"I","s":"k","t":1.41,"v":28},{"p":"I","s":"k","t":1.5,"v":32.6},{"p":"I","s":"k","t":1.58,"v":36.2},{"p":"I","s":"k","t":1.64,"v":38.9},{"p":"I","s":"k","t":1.69,"v":44.3},{"p":"I","s":"k","t":1.74,"v":45.2},{"p":"I","s":"k","t":1.84,"v":45.2},{"p":"I","s":"k","t":1.88,"v":54.3},{"p":"I","s":"k","t":1.92,"v":57.9},{"p":"I","s":"k","t":1.99,"v":55.2},{"p":"I","s":"k","t":2.05,"v":48.8},{"p":"I","s":"k","t":2.12,"v":34.4},{"p":"I","s":"k","t":2.18,"v":18.1},{"p":"I","s":"k","t":2.23,"v":5.4},{"p":"I","s":"k","t":2.25,"v":3.3},{"p":"I","s":"k","t":2.28,"v":7.2},{"p":"I","s":"k","t":2.32,"v":21.7},{"p":"I","s":"k","t":2.37,"v":26.2},{"p":"I","s":"k","t":2.43,"v":28},{"p":"I","s":"k","t":2.53,"v":34.4},{"p":"I","s":"k","t":2.62,"v":37.1},{"p":"I","s":"k","t":2.68,"v":41.6},{"p":"I","s":"k","t":2.73,"v":45.2},{"p":"I","s":"k","t":2.85,"v":45.2},{"p":"I","s":"k","t":2.88,"v":52.4},{"p":"I","s":"k","t":2.94,"v":57.9},{"p":"I","s":"k","t":3,"v":51.5}
],
"vr":[
{"p":"A","t":1.242,"y1":45,"y2":-26},{"p":"A","t":1.541,"y1":45,"y2":-26},{"p":"A","t":2.171,"y1":45,"y2":-26},
{"p":"B","t":1.096,"y1":45,"y2":-26},{"p":"B","t":1.354,"y1":45,"y2":-26},{"p":"B","t":1.981,"y1":45,"y2":-26},
{"p":"C","t":1.322,"y1":45,"y2":-26},{"p":"C","t":1.726,"y1":45,"y2":-26},{"p":"C","t":2.328,"y1":45,"y2":-26},
{"p":"D","t":1.242,"y1":130,"y2":-54},{"p":"D","t":1.541,"y1":130,"y2":-54},{"p":"D","t":2.171,"y1":130,"y2":-54},
{"p":"E","t":1.096,"y1":130,"y2":-54},{"p":"E","t":1.354,"y1":130,"y2":-54},{"p":"E","t":1.981,"y1":130,"y2":-54},
{"p":"F","t":1.322,"y1":130,"y2":-54},{"p":"F","t":1.726,"y1":130,"y2":-54},{"p":"F","t":2.328,"y1":130,"y2":-54},
{"p":"G","t":1.242,"y1":100,"y2":-31},{"p":"G","t":1.541,"y1":100,"y2":-31},{"p":"G","t":2.171,"y1":100,"y2":-31},
{"p":"H","t":1.096,"y1":100,"y2":-31},{"p":"H","t":1.354,"y1":100,"y2":-31},{"p":"H","t":1.981,"y1":100,"y2":-31},
{"p":"I","t":1.322,"y1":100,"y2":-31},{"p":"I","t":1.726,"y1":100,"y2":-31},{"p":"I","t":2.328,"y1":100,"y2":-31}
],
"hb":[{"p":"G","v":2.7},{"p":"H","v":65.5},{"p":"I","v":45.2}],
"lab":[
{"p":"A","t":0.373,"v":24.8,"sub":"PA"},{"p":"A","t":0.121,"v":-5.65,"sub":"RV"},
{"p":"B","t":0.139,"v":29.9,"sub":"PA"},{"p":"B","t":0.483,"v":-5.65,"sub":"RV"},
{"p":"C","t":0.35,"v":19.35,"sub":"PA"},{"p":"C","t":0.132,"v":-5.1,"sub":"RV"},
{"p":"D","t":0.261,"v":103.6,"sub":"AO"},{"p":"D","t":0.699,"v":-0.5,"sub":"LV"},
{"p":"E","t":0.102,"v":104.3,"sub":"AO"},{"p":"E","t":0.39,"v":3.3,"sub":"LV"},
{"p":"F","t":0.445,"v":105.9,"sub":"AO"},{"p":"F","t":0.341,"v":24.5,"sub":"LV"}
],
"let":[
{"p":"A","t":0.075,"v":-17.6,"L":"A"},{"p":"B","t":0.12,"v":-17.6,"L":"B"},{"p":"C","t":0.135,"v":-17.6,"L":"C"},
{"p":"D","t":0.075,"v":-31.3,"L":"D"},{"p":"E","t":0.12,"v":-31.3,"L":"E"},{"p":"F","t":0.135,"v":-31.3,"L":"F"},
{"p":"G","t":0.09,"v":-15.2,"L":"G"},{"p":"H","t":0.13,"v":-15.2,"L":"H"},{"p":"I","t":0.14,"v":-15.2,"L":"I"}
],
"ds":[
{"p":"A","t":1.39,"v":31,"L":"D"},{"p":"A","t":1.855,"v":31,"L":"S"},
{"p":"B","t":1.226,"v":31,"L":"D"},{"p":"B","t":1.69,"v":31,"L":"S"},
{"p":"C","t":1.533,"v":31,"L":"D"},{"p":"C","t":2.015,"v":31,"L":"S"}
],
"yt":[{"p":"G","t":-0.92,"v":40.7}]
},
"hconcat":[
{"spacing":58.5,"bounds":"flush","vconcat":[
{"width":322,"height":183,"title":{"text":["Passive Septum","(ESPVR Only)"]},
"layer":[
{"data":{"name":"cur"},"transform":[{"filter":"datum.p=='A'&&datum.s=='k'"}],"mark":{"type":"line","color":"black","strokeWidth":2.2,"interpolate":"monotone"},"encoding":{"x":{"field":"t","type":"quantitative","scale":{"domain":[0,3],"nice":false},"axis":{"values":[0,1,2,3],"format":"d","title":null,"labelFlush":false}},"y":{"field":"v","type":"quantitative","scale":{"domain":[-10,40],"nice":false},"axis":{"values":[0,20,40],"title":["Pressure","(mmHg)"],"titlePadding":20}}}},
{"data":{"name":"cur"},"transform":[{"filter":"datum.p=='A'&&datum.s=='r'"}],"mark":{"type":"line","color":"#ff0000","strokeWidth":2,"interpolate":"monotone"},"encoding":{"x":{"field":"t","type":"quantitative"},"y":{"field":"v","type":"quantitative"}}},
{"data":{"name":"vr"},"transform":[{"filter":"datum.p=='A'"}],"mark":{"type":"rule","color":"black","strokeWidth":2.5,"strokeDash":[16,7]},"encoding":{"x":{"field":"t","type":"quantitative"},"y":{"field":"y1","type":"quantitative"},"y2":{"field":"y2"}}},
{"data":{"name":"lab"},"transform":[{"filter":"datum.p=='A'"}],"mark":{"type":"text","align":"left","baseline":"alphabetic","font":"Liberation Sans","fontSize":36},"encoding":{"x":{"field":"t","type":"quantitative"},"y":{"field":"v","type":"quantitative"},"text":{"value":"P"}}},
{"data":{"name":"lab"},"transform":[{"filter":"datum.p=='A'"}],"mark":{"type":"text","align":"left","baseline":"alphabetic","font":"Liberation Sans","fontSize":22,"dx":24,"dy":9},"encoding":{"x":{"field":"t","type":"quantitative"},"y":{"field":"v","type":"quantitative"},"text":{"field":"sub"}}},
{"data":{"name":"let"},"transform":[{"filter":"datum.p=='A'"}],"mark":{"type":"text","align":"left","baseline":"alphabetic","font":"Liberation Sans","fontWeight":"bold","fontSize":24},"encoding":{"x":{"field":"t","type":"quantitative"},"y":{"field":"v","type":"quantitative"},"text":{"field":"L"}}},
{"data":{"name":"ds"},"transform":[{"filter":"datum.p=='A'"}],"mark":{"type":"text","align":"center","baseline":"alphabetic","font":"Liberation Serif","fontSize":33},"encoding":{"x":{"field":"t","type":"quantitative"},"y":{"field":"v","type":"quantitative"},"text":{"field":"L"}}}
]},
{"width":322,"height":184,
"layer":[
{"data":{"name":"cur"},"transform":[{"filter":"datum.p=='D'&&datum.s=='k'"}],"mark":{"type":"line","color":"black","strokeWidth":2.2,"interpolate":"monotone"},"encoding":{"x":{"field":"t","type":"quantitative","scale":{"domain":[0,3],"nice":false},"axis":{"values":[0,1,2,3],"format":"d","title":null,"labelFlush":false}},"y":{"field":"v","type":"quantitative","scale":{"domain":[-10,130],"nice":false},"axis":{"values":[0,50,100],"title":["Pressure","(mmHg)"],"titlePadding":10}}}},
{"data":{"name":"cur"},"transform":[{"filter":"datum.p=='D'&&datum.s=='r'"}],"mark":{"type":"line","color":"#ff0000","strokeWidth":2,"interpolate":"monotone"},"encoding":{"x":{"field":"t","type":"quantitative"},"y":{"field":"v","type":"quantitative"}}},
{"data":{"name":"vr"},"transform":[{"filter":"datum.p=='D'"}],"mark":{"type":"rule","color":"black","strokeWidth":2.5,"strokeDash":[16,7]},"encoding":{"x":{"field":"t","type":"quantitative"},"y":{"field":"y1","type":"quantitative"},"y2":{"field":"y2"}}},
{"data":{"name":"lab"},"transform":[{"filter":"datum.p=='D'"}],"mark":{"type":"text","align":"left","baseline":"alphabetic","font":"Liberation Sans","fontSize":36},"encoding":{"x":{"field":"t","type":"quantitative"},"y":{"field":"v","type":"quantitative"},"text":{"value":"P"}}},
{"data":{"name":"lab"},"transform":[{"filter":"datum.p=='D'"}],"mark":{"type":"text","align":"left","baseline":"alphabetic","font":"Liberation Sans","fontSize":22,"dx":24,"dy":9},"encoding":{"x":{"field":"t","type":"quantitative"},"y":{"field":"v","type":"quantitative"},"text":{"field":"sub"}}},
{"data":{"name":"let"},"transform":[{"filter":"datum.p=='D'"}],"mark":{"type":"text","align":"left","baseline":"alphabetic","font":"Liberation Sans","fontWeight":"bold","fontSize":24},"encoding":{"x":{"field":"t","type":"quantitative"},"y":{"field":"v","type":"quantitative"},"text":{"field":"L"}}}
]},
{"width":322,"height":184,
"layer":[
{"data":{"name":"cur"},"transform":[{"filter":"datum.p=='G'&&datum.s=='k'"}],"mark":{"type":"line","color":"black","strokeWidth":2.2,"interpolate":"monotone"},"encoding":{"x":{"field":"t","type":"quantitative","scale":{"domain":[0,3],"nice":false},"axis":{"values":[0,1,2,3],"format":"d","title":null,"labelFlush":false}},"y":{"field":"v","type":"quantitative","scale":{"domain":[0,100],"nice":false},"axis":{"values":[0,50,100],"title":null}}}},
{"data":{"name":"hb"},"transform":[{"filter":"datum.p=='G'"}],"mark":{"type":"rule","color":"#3a6fd0","strokeWidth":1.4,"strokeDash":[4,2]},"encoding":{"y":{"field":"v","type":"quantitative"}}},
{"data":{"name":"vr"},"transform":[{"filter":"datum.p=='G'"}],"mark":{"type":"rule","color":"black","strokeWidth":2.5,"strokeDash":[16,7]},"encoding":{"x":{"field":"t","type":"quantitative"},"y":{"field":"y1","type":"quantitative"},"y2":{"field":"y2"}}},
{"data":{"name":"let"},"transform":[{"filter":"datum.p=='G'"}],"mark":{"type":"text","align":"left","baseline":"alphabetic","font":"Liberation Sans","fontWeight":"bold","fontSize":24},"encoding":{"x":{"field":"t","type":"quantitative"},"y":{"field":"v","type":"quantitative"},"text":{"field":"L"}}},
{"data":{"name":"yt"},"mark":{"type":"text","align":"left","baseline":"alphabetic","font":"Liberation Serif","fontWeight":"bold","fontSize":36,"angle":270,"dx":-31},"encoding":{"x":{"field":"t","type":"quantitative"},"y":{"field":"v","type":"quantitative"},"text":{"value":"V"}}},
{"data":{"name":"yt"},"mark":{"type":"text","align":"left","baseline":"alphabetic","font":"Liberation Serif","fontWeight":"bold","fontSize":20,"angle":270,"dx":-5,"dy":8},"encoding":{"x":{"field":"t","type":"quantitative"},"y":{"field":"v","type":"quantitative"},"text":{"value":"SPT"}}},
{"data":{"name":"yt"},"mark":{"type":"text","align":"center","baseline":"alphabetic","font":"Liberation Serif","fontWeight":"bold","fontSize":36,"angle":270,"dx":-15,"dy":42},"encoding":{"x":{"field":"t","type":"quantitative"},"y":{"field":"v","type":"quantitative"},"text":{"value":"(ml)"}}}
]}
]},
{"spacing":58.5,"bounds":"flush","vconcat":[
{"width":323,"height":183,"title":{"text":["Passive Septum","(EDPVR Only)"]},
"layer":[
{"data":{"name":"cur"},"transform":[{"filter":"datum.p=='B'&&datum.s=='k'"}],"mark":{"type":"line","color":"black","strokeWidth":2.2,"interpolate":"monotone"},"encoding":{"x":{"field":"t","type":"quantitative","scale":{"domain":[0,3],"nice":false},"axis":{"values":[0,1,2,3],"format":"d","title":null,"labelFlush":false}},"y":{"field":"v","type":"quantitative","scale":{"domain":[-10,40],"nice":false},"axis":{"values":[0,20,40],"title":null}}}},
{"data":{"name":"cur"},"transform":[{"filter":"datum.p=='B'&&datum.s=='r'"}],"mark":{"type":"line","color":"#ff0000","strokeWidth":2,"interpolate":"monotone"},"encoding":{"x":{"field":"t","type":"quantitative"},"y":{"field":"v","type":"quantitative"}}},
{"data":{"name":"vr"},"transform":[{"filter":"datum.p=='B'"}],"mark":{"type":"rule","color":"black","strokeWidth":2.5,"strokeDash":[16,7]},"encoding":{"x":{"field":"t","type":"quantitative"},"y":{"field":"y1","type":"quantitative"},"y2":{"field":"y2"}}},
{"data":{"name":"lab"},"transform":[{"filter":"datum.p=='B'"}],"mark":{"type":"text","align":"left","baseline":"alphabetic","font":"Liberation Sans","fontSize":36},"encoding":{"x":{"field":"t","type":"quantitative"},"y":{"field":"v","type":"quantitative"},"text":{"value":"P"}}},
{"data":{"name":"lab"},"transform":[{"filter":"datum.p=='B'"}],"mark":{"type":"text","align":"left","baseline":"alphabetic","font":"Liberation Sans","fontSize":22,"dx":24,"dy":9},"encoding":{"x":{"field":"t","type":"quantitative"},"y":{"field":"v","type":"quantitative"},"text":{"field":"sub"}}},
{"data":{"name":"let"},"transform":[{"filter":"datum.p=='B'"}],"mark":{"type":"text","align":"left","baseline":"alphabetic","font":"Liberation Sans","fontWeight":"bold","fontSize":24},"encoding":{"x":{"field":"t","type":"quantitative"},"y":{"field":"v","type":"quantitative"},"text":{"field":"L"}}},
{"data":{"name":"ds"},"transform":[{"filter":"datum.p=='B'"}],"mark":{"type":"text","align":"center","baseline":"alphabetic","font":"Liberation Serif","fontSize":33},"encoding":{"x":{"field":"t","type":"quantitative"},"y":{"field":"v","type":"quantitative"},"text":{"field":"L"}}}
]},
{"width":323,"height":184,
"layer":[
{"data":{"name":"cur"},"transform":[{"filter":"datum.p=='E'&&datum.s=='k'"}],"mark":{"type":"line","color":"black","strokeWidth":2.2,"interpolate":"monotone"},"encoding":{"x":{"field":"t","type":"quantitative","scale":{"domain":[0,3],"nice":false},"axis":{"values":[0,1,2,3],"format":"d","title":null,"labelFlush":false}},"y":{"field":"v","type":"quantitative","scale":{"domain":[-10,130],"nice":false},"axis":{"values":[0,50,100],"title":null}}}},
{"data":{"name":"cur"},"transform":[{"filter":"datum.p=='E'&&datum.s=='r'"}],"mark":{"type":"line","color":"#ff0000","strokeWidth":2,"interpolate":"monotone"},"encoding":{"x":{"field":"t","type":"quantitative"},"y":{"field":"v","type":"quantitative"}}},
{"data":{"name":"vr"},"transform":[{"filter":"datum.p=='E'"}],"mark":{"type":"rule","color":"black","strokeWidth":2.5,"strokeDash":[16,7]},"encoding":{"x":{"field":"t","type":"quantitative"},"y":{"field":"y1","type":"quantitative"},"y2":{"field":"y2"}}},
{"data":{"name":"lab"},"transform":[{"filter":"datum.p=='E'"}],"mark":{"type":"text","align":"left","baseline":"alphabetic","font":"Liberation Sans","fontSize":36},"encoding":{"x":{"field":"t","type":"quantitative"},"y":{"field":"v","type":"quantitative"},"text":{"value":"P"}}},
{"data":{"name":"lab"},"transform":[{"filter":"datum.p=='E'"}],"mark":{"type":"text","align":"left","baseline":"alphabetic","font":"Liberation Sans","fontSize":22,"dx":24,"dy":9},"encoding":{"x":{"field":"t","type":"quantitative"},"y":{"field":"v","type":"quantitative"},"text":{"field":"sub"}}},
{"data":{"name":"let"},"transform":[{"filter":"datum.p=='E'"}],"mark":{"type":"text","align":"left","baseline":"alphabetic","font":"Liberation Sans","fontWeight":"bold","fontSize":24},"encoding":{"x":{"field":"t","type":"quantitative"},"y":{"field":"v","type":"quantitative"},"text":{"field":"L"}}}
]},
{"width":323,"height":184,
"layer":[
{"data":{"name":"cur"},"transform":[{"filter":"datum.p=='H'&&datum.s=='k'"}],"mark":{"type":"line","color":"black","strokeWidth":2.2,"interpolate":"monotone"},"encoding":{"x":{"field":"t","type":"quantitative","scale":{"domain":[0,3],"nice":false},"axis":{"values":[0,1,2,3],"format":"d","title":"Time (s)","titlePadding":26,"labelFlush":false}},"y":{"field":"v","type":"quantitative","scale":{"domain":[0,100],"nice":false},"axis":{"values":[0,50,100],"title":null}}}},
{"data":{"name":"hb"},"transform":[{"filter":"datum.p=='H'"}],"mark":{"type":"rule","color":"#3a6fd0","strokeWidth":1.4,"strokeDash":[4,2]},"encoding":{"y":{"field":"v","type":"quantitative"}}},
{"data":{"name":"vr"},"transform":[{"filter":"datum.p=='H'"}],"mark":{"type":"rule","color":"black","strokeWidth":2.5,"strokeDash":[16,7]},"encoding":{"x":{"field":"t","type":"quantitative"},"y":{"field":"y1","type":"quantitative"},"y2":{"field":"y2"}}},
{"data":{"name":"let"},"transform":[{"filter":"datum.p=='H'"}],"mark":{"type":"text","align":"left","baseline":"alphabetic","font":"Liberation Sans","fontWeight":"bold","fontSize":24},"encoding":{"x":{"field":"t","type":"quantitative"},"y":{"field":"v","type":"quantitative"},"text":{"field":"L"}}}
]}
]},
{"spacing":58.5,"bounds":"flush","vconcat":[
{"width":317,"height":183,"title":{"text":["Active Septum","(Control)"]},
"layer":[
{"data":{"name":"cur"},"transform":[{"filter":"datum.p=='C'&&datum.s=='k'"}],"mark":{"type":"line","color":"black","strokeWidth":2.2,"interpolate":"monotone"},"encoding":{"x":{"field":"t","type":"quantitative","scale":{"domain":[0,3],"nice":false},"axis":{"values":[0,1,2,3],"format":"d","title":null,"labelFlush":false}},"y":{"field":"v","type":"quantitative","scale":{"domain":[-10,40],"nice":false},"axis":{"values":[0,20,40],"title":null}}}},
{"data":{"name":"cur"},"transform":[{"filter":"datum.p=='C'&&datum.s=='r'"}],"mark":{"type":"line","color":"#ff0000","strokeWidth":2,"interpolate":"monotone"},"encoding":{"x":{"field":"t","type":"quantitative"},"y":{"field":"v","type":"quantitative"}}},
{"data":{"name":"vr"},"transform":[{"filter":"datum.p=='C'"}],"mark":{"type":"rule","color":"black","strokeWidth":2.5,"strokeDash":[16,7]},"encoding":{"x":{"field":"t","type":"quantitative"},"y":{"field":"y1","type":"quantitative"},"y2":{"field":"y2"}}},
{"data":{"name":"lab"},"transform":[{"filter":"datum.p=='C'"}],"mark":{"type":"text","align":"left","baseline":"alphabetic","font":"Liberation Sans","fontSize":36},"encoding":{"x":{"field":"t","type":"quantitative"},"y":{"field":"v","type":"quantitative"},"text":{"value":"P"}}},
{"data":{"name":"lab"},"transform":[{"filter":"datum.p=='C'"}],"mark":{"type":"text","align":"left","baseline":"alphabetic","font":"Liberation Sans","fontSize":22,"dx":24,"dy":9},"encoding":{"x":{"field":"t","type":"quantitative"},"y":{"field":"v","type":"quantitative"},"text":{"field":"sub"}}},
{"data":{"name":"let"},"transform":[{"filter":"datum.p=='C'"}],"mark":{"type":"text","align":"left","baseline":"alphabetic","font":"Liberation Sans","fontWeight":"bold","fontSize":24},"encoding":{"x":{"field":"t","type":"quantitative"},"y":{"field":"v","type":"quantitative"},"text":{"field":"L"}}},
{"data":{"name":"ds"},"transform":[{"filter":"datum.p=='C'"}],"mark":{"type":"text","align":"center","baseline":"alphabetic","font":"Liberation Serif","fontSize":33},"encoding":{"x":{"field":"t","type":"quantitative"},"y":{"field":"v","type":"quantitative"},"text":{"field":"L"}}}
]},
{"width":317,"height":184,
"layer":[
{"data":{"name":"cur"},"transform":[{"filter":"datum.p=='F'&&datum.s=='k'"}],"mark":{"type":"line","color":"black","strokeWidth":2.2,"interpolate":"monotone"},"encoding":{"x":{"field":"t","type":"quantitative","scale":{"domain":[0,3],"nice":false},"axis":{"values":[0,1,2,3],"format":"d","title":null,"labelFlush":false}},"y":{"field":"v","type":"quantitative","scale":{"domain":[-10,130],"nice":false},"axis":{"values":[0,50,100],"title":null}}}},
{"data":{"name":"cur"},"transform":[{"filter":"datum.p=='F'&&datum.s=='r'"}],"mark":{"type":"line","color":"#ff0000","strokeWidth":2,"interpolate":"monotone"},"encoding":{"x":{"field":"t","type":"quantitative"},"y":{"field":"v","type":"quantitative"}}},
{"data":{"name":"vr"},"transform":[{"filter":"datum.p=='F'"}],"mark":{"type":"rule","color":"black","strokeWidth":2.5,"strokeDash":[16,7]},"encoding":{"x":{"field":"t","type":"quantitative"},"y":{"field":"y1","type":"quantitative"},"y2":{"field":"y2"}}},
{"data":{"name":"lab"},"transform":[{"filter":"datum.p=='F'"}],"mark":{"type":"text","align":"left","baseline":"alphabetic","font":"Liberation Sans","fontSize":36},"encoding":{"x":{"field":"t","type":"quantitative"},"y":{"field":"v","type":"quantitative"},"text":{"value":"P"}}},
{"data":{"name":"lab"},"transform":[{"filter":"datum.p=='F'"}],"mark":{"type":"text","align":"left","baseline":"alphabetic","font":"Liberation Sans","fontSize":22,"dx":24,"dy":9},"encoding":{"x":{"field":"t","type":"quantitative"},"y":{"field":"v","type":"quantitative"},"text":{"field":"sub"}}},
{"data":{"name":"let"},"transform":[{"filter":"datum.p=='F'"}],"mark":{"type":"text","align":"left","baseline":"alphabetic","font":"Liberation Sans","fontWeight":"bold","fontSize":24},"encoding":{"x":{"field":"t","type":"quantitative"},"y":{"field":"v","type":"quantitative"},"text":{"field":"L"}}}
]},
{"width":317,"height":184,
"layer":[
{"data":{"name":"cur"},"transform":[{"filter":"datum.p=='I'&&datum.s=='k'"}],"mark":{"type":"line","color":"black","strokeWidth":2.2,"interpolate":"monotone"},"encoding":{"x":{"field":"t","type":"quantitative","scale":{"domain":[0,3],"nice":false},"axis":{"values":[0,1,2,3],"format":"d","title":null,"labelFlush":false}},"y":{"field":"v","type":"quantitative","scale":{"domain":[0,100],"nice":false},"axis":{"values":[0,50,100],"title":null}}}},
{"data":{"name":"hb"},"transform":[{"filter":"datum.p=='I'"}],"mark":{"type":"rule","color":"#3a6fd0","strokeWidth":1.4,"strokeDash":[4,2]},"encoding":{"y":{"field":"v","type":"quantitative"}}},
{"data":{"name":"vr"},"transform":[{"filter":"datum.p=='I'"}],"mark":{"type":"rule","color":"black","strokeWidth":2.5,"strokeDash":[16,7]},"encoding":{"x":{"field":"t","type":"quantitative"},"y":{"field":"y1","type":"quantitative"},"y2":{"field":"y2"}}},
{"data":{"name":"let"},"transform":[{"filter":"datum.p=='I'"}],"mark":{"type":"text","align":"left","baseline":"alphabetic","font":"Liberation Sans","fontWeight":"bold","fontSize":24},"encoding":{"x":{"field":"t","type":"quantitative"},"y":{"field":"v","type":"quantitative"},"text":{"field":"L"}}}
]}
]}
],
"spacing":59,
"config":{
"view":{"stroke":"#404040","strokeWidth":1.2},
"axis":{"grid":false,"domain":false,"tickColor":"#404040","tickSize":-5,"tickWidth":1,"labelFont":"Liberation Serif","labelFontWeight":"bold","labelFontSize":20,"labelColor":"black","labelPadding":12,"titleFont":"Liberation Serif","titleFontWeight":"bold","titleFontSize":36,"titleColor":"black","titleLineHeight":42},
"title":{"font":"Liberation Serif","fontWeight":"bold","fontSize":36,"color":"black","anchor":"middle","frame":"group","lineHeight":40,"baseline":"bottom","offset":-3}
}
}
